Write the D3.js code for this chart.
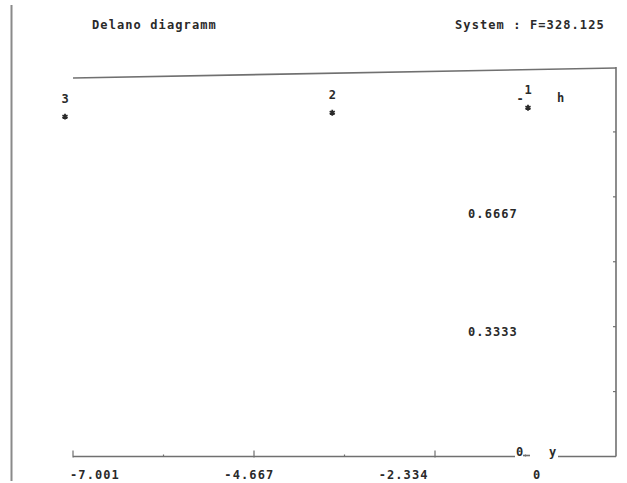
<!DOCTYPE html>
<html>
<head>
<meta charset="utf-8">
<script src="https://cdn.jsdelivr.net/npm/d3@7"></script>
<style>
  body { margin: 0; background: #fff; }
  text { font-family: "DejaVu Sans Mono", monospace; font-weight: bold; font-size: 12px; fill: #2a2a2a; }
</style>
</head>
<body>
<svg id="chart" width="627" height="483"></svg>
<script>
// Delano diagram of a three-surface system: y (horizontal) against h (vertical)
const surfaces = ["3", "2", "1"];
const yValues = [-7.001, -2.96, 0];
const hValues = [0.939, 0.950, 0.964];

// sloped bounding line along the top of the diagram
const boundY = [-6.880, 1.331];
const boundH = [1.048, 1.076];

const yTickValues = [-7.001, -4.667, -2.334, 0];
const yTickLabels = ["-7.001", "-4.667", "-2.334", "0"];
const hTickValues = [0.6667, 0.3333];
const hTickLabels = ["0.6667", "0.3333"];

const titleText = "Delano diagramm";
const systemText = "System : F=328.125";

const svg = d3.select("#chart");
const ink = "#2a2a2a";
const lineCol = "#707070";
const spacing = "1.1px";

const x = d3.scaleLinear().domain([-7.001, 0]).range([65, 528]);
const h = d3.scaleLinear().domain([0, 1]).range([450, 95]);

// plotting frame
const frame = { left: 73, right: 616, top: 67, bottom: 456.5 };

// page border on the left
svg.append("line")
  .attr("x1", 11.5).attr("x2", 11.5).attr("y1", 5).attr("y2", 481)
  .attr("stroke", "#8a8a8a").attr("stroke-width", 2);

// headings
svg.append("text").attr("x", 92).attr("y", 25).attr("dy", "0.35em")
  .attr("letter-spacing", spacing).text(titleText);
svg.append("text").attr("x", 455).attr("y", 25).attr("dy", "0.35em")
  .attr("letter-spacing", spacing).text(systemText);

// bottom axis (interrupted by the origin / axis-name labels)
const axisG = svg.append("g").attr("stroke", lineCol).attr("stroke-width", 1.6).attr("fill", "none");
axisG.append("line").attr("x1", frame.left).attr("x2", 515)
  .attr("y1", frame.bottom).attr("y2", frame.bottom);
axisG.append("line").attr("x1", 523).attr("x2", 530)
  .attr("y1", frame.bottom - 1).attr("y2", frame.bottom - 1);
axisG.append("line").attr("x1", 558).attr("x2", frame.right)
  .attr("y1", frame.bottom).attr("y2", frame.bottom);
// right axis
axisG.append("line").attr("x1", frame.right).attr("x2", frame.right)
  .attr("y1", frame.top).attr("y2", frame.bottom);

// tick divisions of the frame (6 each way)
const nDiv = 6;
const bx = d3.range(nDiv + 1).map(i => frame.left + i * (frame.right - frame.left) / nDiv);
axisG.selectAll(".bt").data(bx.slice(0, nDiv)).join("line")
  .attr("x1", d => d).attr("x2", d => d)
  .attr("y1", (d, i) => frame.bottom - (i % 2 === 0 ? 6 : 2))
  .attr("y2", (d, i) => frame.bottom + (i % 2 === 0 ? 1 : 0))
  .attr("stroke-width", 1.2);
const ry = d3.range(1, nDiv).map(i => frame.top + i * (frame.bottom - frame.top) / nDiv);
axisG.selectAll(".rt").data(ry).join("line")
  .attr("x1", frame.right - 3).attr("x2", frame.right)
  .attr("y1", d => d).attr("y2", d => d)
  .attr("stroke-width", 1.2);

// top bounding line
svg.append("line")
  .attr("x1", x(boundY[0])).attr("y1", h(boundH[0]))
  .attr("x2", x(boundY[1])).attr("y2", h(boundH[1]))
  .attr("stroke", lineCol).attr("stroke-width", 1.6);

// y tick labels
svg.selectAll(".yl").data(yTickValues).join("text")
  .attr("x", d => x(d) + 5).attr("y", 475).attr("dy", "0.35em")
  .attr("letter-spacing", spacing)
  .text((d, i) => yTickLabels[i]);

// h tick labels
svg.selectAll(".hl").data(hTickValues).join("text")
  .attr("x", 468).attr("y", d => h(d)).attr("dy", "0.35em")
  .attr("letter-spacing", spacing)
  .text((d, i) => hTickLabels[i]);

// origin and axis names
svg.append("text").attr("x", 516).attr("y", h(0) + 1.5).attr("dy", "0.35em").text("0");
svg.append("text").attr("x", 549).attr("y", h(0) + 1.5).attr("dy", "0.35em").text("y");
svg.append("text").attr("x", x(0) + 29).attr("y", h(1) + 3).attr("dy", "0.35em").text("h");

// surfaces: asterisk marker plus number above it
const pts = surfaces.map((s, i) => ({ s, y: yValues[i], h: hValues[i] }));
const star = d3.symbol().type(d3.symbolAsterisk).size(24);
svg.selectAll(".pt").data(pts).join("path")
  .attr("transform", d => `translate(${x(d.y)},${h(d.h)})`)
  .attr("d", star)
  .attr("stroke", ink).attr("stroke-width", 1.8).attr("fill", "none");
svg.selectAll(".pl").data(pts).join("text")
  .attr("x", d => x(d.y)).attr("y", d => h(d.h) - 18).attr("dy", "0.35em")
  .attr("text-anchor", "middle")
  .text(d => d.s);
// stop marker beside the surface at y = 0
svg.selectAll(".stop").data(pts.filter(d => d.y === 0)).join("text")
  .attr("x", d => x(d.y) - 8).attr("y", d => h(d.h) - 9).attr("dy", "0.35em")
  .attr("text-anchor", "middle")
  .text("-");
</script>
</body>
</html>
